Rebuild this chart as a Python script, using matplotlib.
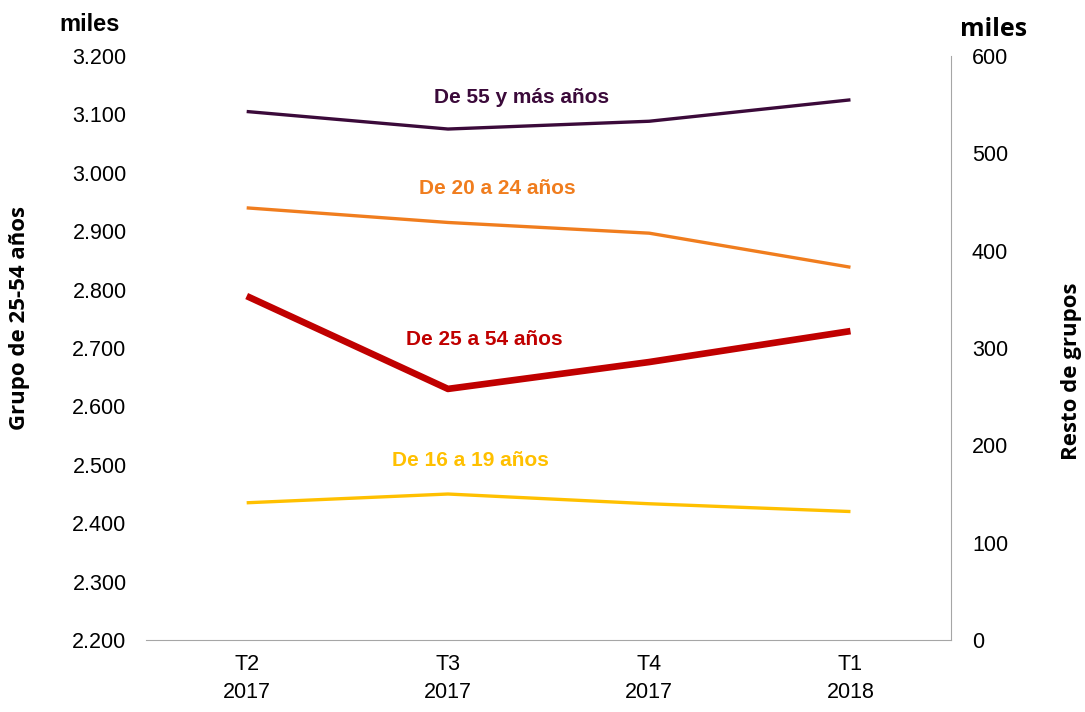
import matplotlib.pyplot as plt
from matplotlib.ticker import FuncFormatter

periodos = ['T2\n2017', 'T3\n2017', 'T4\n2017', 'T1\n2018']
grupo_25_54 = [2789, 2630, 2676, 2729]
grupo_55_mas = [543, 525, 533, 555]
grupo_20_24 = [444, 429, 418, 383]
grupo_16_19 = [141, 150, 140, 132]

plt.rcParams['font.family'] = ['Liberation Sans', 'DejaVu Sans']

fig = plt.figure(figsize=(10.85, 7.12), dpi=100)
ax = fig.add_axes([0.1346, 0.1011, 0.742, 0.8202])
ax2 = ax.twinx()

x = range(len(periodos))
ax2.plot(x, grupo_55_mas, color='#3B0A3A', lw=2.4, solid_capstyle='butt')
ax2.plot(x, grupo_20_24, color='#F07D1E', lw=2.4, solid_capstyle='butt')
ax2.plot(x, grupo_16_19, color='#FFC000', lw=2.4, solid_capstyle='butt')
ax.plot(x, grupo_25_54, color='#C00000', lw=4.8, solid_capstyle='butt')
ax.set_zorder(ax2.get_zorder() + 1)
ax.patch.set_visible(False)

ax.set_xlim(-0.5, 3.5)
ax.set_ylim(2200, 3200)
ax.set_yticks(range(2200, 3201, 100))
ax.yaxis.set_major_formatter(FuncFormatter(lambda v, p: '{:,.0f}'.format(v).replace(',', '.')))
ax2.set_ylim(0, 600)
ax2.set_yticks(range(0, 601, 100))
ax.set_xticks(list(x))
ax.set_xticklabels(periodos)
for lab in ax.get_xticklabels():
    lab.set_linespacing(1.45)

for a in (ax, ax2):
    for s in ('top', 'left', 'right', 'bottom'):
        a.spines[s].set_visible(False)
    a.tick_params(length=0, labelsize=15.5, colors='#000000')
ax2.spines['right'].set_visible(True)
ax2.spines['right'].set_color('#A6A6A6')
ax.spines['bottom'].set_visible(True)
ax.spines['bottom'].set_color('#A6A6A6')
ax.tick_params(axis='y', pad=14)
ax.tick_params(axis='x', pad=10)
ax2.tick_params(axis='y', pad=15)

fig.text(0.0184, 0.5534, 'Grupo de 25-54 años', fontsize=16, fontweight='bold', rotation=90,
         ha='center', va='center', family=['Open Sans', 'DejaVu Sans'])
fig.text(0.988, 0.479, 'Resto de grupos', fontsize=16, fontweight='bold', rotation=90,
         ha='center', va='center', family=['Open Sans', 'DejaVu Sans'])
fig.text(0.083, 0.965, 'miles', fontsize=17, fontweight='bold', ha='center', va='center')
fig.text(0.916, 0.958, 'miles', fontsize=18, fontweight='bold', ha='center', va='center',
         family=['Open Sans', 'DejaVu Sans'])

ax2.text(1.366, 557, 'De 55 y más años', color='#3B0A3A', fontsize=15, fontweight='bold', ha='center', va='center')
ax2.text(1.247, 464, 'De 20 a 24 años', color='#F07D1E', fontsize=15, fontweight='bold', ha='center', va='center')
ax.text(1.18, 2715, 'De 25 a 54 años', color='#C00000', fontsize=15, fontweight='bold', ha='center', va='center')
ax2.text(1.113, 184, 'De 16 a 19 años', color='#FFC000', fontsize=15, fontweight='bold', ha='center', va='center')

plt.savefig('out.png', dpi=100)
